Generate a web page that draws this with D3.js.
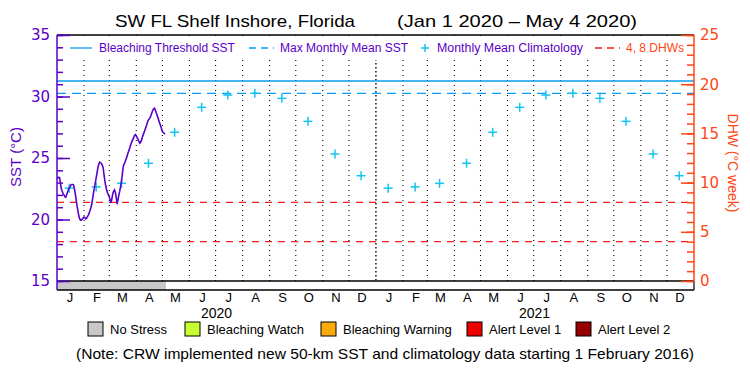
<!DOCTYPE html>
<html>
<head>
<meta charset="utf-8">
<script src="https://cdn.jsdelivr.net/npm/d3@7"></script>
<style>
  body { margin: 0; background: #fff; }
  text { font-family: "Liberation Sans", Arial, sans-serif; }
  .num { font-family: "DejaVu Sans", sans-serif; }
</style>
</head>
<body>
<div id="vis"></div>
<script>
var width = 750;
var height = 375;

// daily SST, Jan 1 2020 -> May 4 2020
var sstStart = "2020-01-01";
var sst = [23.35, 23.4, 23.42, 23.4, 22.9, 22.5, 22.3, 22.1, 22.0, 21.85,
  21.8, 22.0, 22.2, 22.4, 22.55, 22.67, 22.8, 22.85, 22.85, 22.8,
  22.5, 22.1, 21.6, 21.1, 20.7, 20.3, 20.05, 19.95, 19.95, 20.05,
  20.1, 20.2, 20.15, 20.05, 20.1, 20.25, 20.35, 20.55, 20.75, 21.0,
  21.3, 21.75, 22.2, 22.6, 23.0, 23.4, 23.8, 24.25, 24.5, 24.65,
  24.6, 24.57, 24.4, 24.2, 23.6, 23.1, 22.7, 22.4, 22.15, 22.0,
  21.85, 21.6, 21.35, 21.7, 22.1, 22.3, 22.4, 22.2, 21.8, 21.25,
  21.6, 22.0, 22.3, 22.7, 23.1, 23.7, 24.3, 24.5, 24.65, 24.85,
  25.05, 25.3, 25.5, 25.7, 25.95, 26.15, 26.35, 26.5, 26.65, 26.85,
  26.9, 26.8, 26.65, 26.5, 26.35, 26.2, 26.3, 26.45, 26.7, 26.9,
  27.1, 27.3, 27.5, 27.7, 27.95, 28.1, 28.2, 28.3, 28.5, 28.7,
  28.9, 29.0, 29.05, 28.85, 28.65, 28.45, 28.25, 28.0, 27.8, 27.6,
  27.35, 27.15, 27.05, 27.0, 26.95];

// monthly mean climatology (Jan..Dec)
var climatology = [22.55, 22.65, 22.94, 24.57, 27.09, 29.12, 30.12, 30.26, 29.85, 27.98, 25.33, 23.56];
var mmm = 30.26;
var threshold = 31.26;
var dhwLevels = [4, 8];
var years = [2020, 2021];
var monthLabels = ["J", "F", "M", "A", "M", "J", "J", "A", "S", "O", "N", "D"];
var sstTicks = [15, 20, 25, 30, 35];
var dhwTicks = [0, 5, 10, 15, 20, 25];
var stressEnd = "2020-05-05";

var legendItems = [
  {label: "No Stress", color: "#c8c8c8"},
  {label: "Bleaching Watch", color: "#c8ff32"},
  {label: "Bleaching Warning", color: "#faaa0a"},
  {label: "Alert Level 1", color: "#f00000"},
  {label: "Alert Level 2", color: "#960000"}
];

var purple = "#5a00c8";
var orange = "#ff4614";
var blue = "#0a9bf5";
var cyan = "#14c3f0";

// plot box (note: "top" is reserved on window)
var pLeft = 57, pRight = 694, pTop = 35, pBottom = 281, stripBottom = 290;

var canvas = d3.select("#vis")
  .append("svg")
  .attr("width", width)
  .attr("height", height)
  .style("background-color", "#fff");

const x = d3.scaleUtc()
  .domain([new Date(Date.UTC(2020, 0, 1)), new Date(Date.UTC(2022, 0, 1))])
  .range([pLeft, pRight]);

const y = d3.scaleLinear().domain([15, 35]).range([pBottom, pTop]);
const yD = d3.scaleLinear().domain([0, 25]).range([pBottom, pTop]);

var startDate = d3.utcParse("%Y-%m-%d")(sstStart);
var sstData = sst.map((v, i) => ({date: d3.utcDay.offset(startDate, i), value: v}));

// month boundary dotted lines
var monthStarts = d3.utcMonth.range(new Date(Date.UTC(2020, 1, 1)), new Date(Date.UTC(2022, 0, 1)));
canvas.append("g")
  .selectAll("line")
  .data(monthStarts)
  .enter()
  .append("line")
  .attr("x1", d => x(d))
  .attr("x2", d => x(d))
  .attr("y1", pTop)
  .attr("y2", pBottom)
  .style("stroke", "#000")
  .style("stroke-width", d => d.getUTCMonth() == 0 ? 1.4 : 1.1)
  .style("stroke-dasharray", d => d.getUTCMonth() == 0 ? "1.4,2.6" : "1.1,3.9");

// legend background covers the grid
canvas.append("rect")
  .attr("x", pLeft + 1)
  .attr("y", pTop + 1)
  .attr("width", pRight - pLeft - 2)
  .attr("height", 24)
  .style("fill", "#fff");

// threshold + MMM
canvas.append("line")
  .attr("x1", pLeft).attr("x2", pRight)
  .attr("y1", y(threshold)).attr("y2", y(threshold))
  .style("stroke", blue)
  .style("stroke-width", 1.5);

canvas.append("line")
  .attr("x1", pLeft).attr("x2", pRight)
  .attr("y1", y(mmm)).attr("y2", y(mmm))
  .style("stroke", blue)
  .style("stroke-width", 1.3)
  .style("stroke-dasharray", "9,6");

// DHW 4, 8 lines
canvas.append("g")
  .selectAll("line")
  .data(dhwLevels)
  .enter()
  .append("line")
  .attr("x1", pLeft).attr("x2", pRight)
  .attr("y1", d => yD(d)).attr("y2", d => yD(d))
  .style("stroke", "#f01e1e")
  .style("stroke-width", 1.3)
  .style("stroke-dasharray", "7,6");

// climatology crosses
var climData = [];
years.forEach(yr => climatology.forEach((v, m) => climData.push({date: new Date(Date.UTC(yr, m, 15)), value: v})));

var crosses = canvas.append("g")
  .selectAll("g")
  .data(climData)
  .enter()
  .append("g")
  .attr("transform", d => `translate(${x(d.date)}, ${y(d.value)})`)
  .style("stroke", cyan)
  .style("stroke-width", 1.5);
crosses.append("line").attr("x1", -4.5).attr("x2", 4.5);
crosses.append("line").attr("y1", -4.5).attr("y2", 4.5);

// SST line
var line = d3.line()
  .x(d => x(d.date))
  .y(d => y(d.value));

canvas.append("path")
  .datum(sstData)
  .attr("d", line)
  .style("fill", "none")
  .style("stroke", purple)
  .style("stroke-width", 1.6);

// stress strip
canvas.append("rect")
  .attr("x", pLeft)
  .attr("y", pBottom)
  .attr("width", x(d3.utcParse("%Y-%m-%d")(stressEnd)) - pLeft)
  .attr("height", stripBottom - pBottom)
  .style("fill", "#c8c8c8");

// frame
canvas.append("line").attr("x1", pLeft).attr("x2", pRight).attr("y1", pTop).attr("y2", pTop).style("stroke", "#000").style("stroke-width", 1.5);
canvas.append("line").attr("x1", pLeft).attr("x2", pRight).attr("y1", pBottom).attr("y2", pBottom).style("stroke", "#000").style("stroke-width", 1.5);
canvas.append("line").attr("x1", pLeft).attr("x2", pRight).attr("y1", stripBottom).attr("y2", stripBottom).style("stroke", "#000").style("stroke-width", 1.5);
canvas.append("line").attr("x1", pRight).attr("x2", pRight).attr("y1", pBottom).attr("y2", stripBottom).style("stroke", "#000").style("stroke-width", 1.2);

// left axis
const yMinor = d3.axisLeft(y).tickValues(d3.range(15, 36)).tickSize(-6).tickSizeOuter(0).tickFormat("");
const yMajor = d3.axisLeft(y).tickValues(sstTicks).tickSize(-13).tickSizeOuter(0).tickPadding(7);

var gl = canvas.append("g").attr("transform", `translate(${pLeft}, 0)`);
gl.append("g").call(yMinor);
gl.append("g").call(yMajor)
  .call(g => g.selectAll("text").attr("class", "num").style("font-size", "15px").style("fill", purple));
gl.selectAll(".domain").remove();
gl.selectAll("line").style("stroke", purple).style("stroke-width", 1.5);
gl.append("line").attr("y1", pTop).attr("y2", stripBottom).style("stroke", purple).style("stroke-width", 1.5);

// right axis
const dMinor = d3.axisRight(yD).tickValues(d3.range(0, 26)).tickSize(-7).tickSizeOuter(0).tickFormat("");
const dMajor = d3.axisRight(yD).tickValues(dhwTicks).tickSize(-13).tickSizeOuter(0).tickPadding(6);

var gr = canvas.append("g").attr("transform", `translate(${pRight}, 0)`);
gr.append("g").call(dMinor);
gr.append("g").call(dMajor)
  .call(g => g.selectAll("text").attr("class", "num").style("font-size", "15px").style("fill", orange));
gr.selectAll(".domain").remove();
gr.selectAll("line").style("stroke", orange).style("stroke-width", 1.5);
gr.append("line").attr("y1", pTop).attr("y2", pBottom).style("stroke", orange).style("stroke-width", 1.5);

// axis titles
canvas.append("text")
  .attr("transform", "translate(21, 157) rotate(-90)")
  .attr("text-anchor", "middle")
  .style("font-size", "15px")
  .style("fill", purple)
  .text("SST (°C)");

canvas.append("text")
  .attr("transform", "translate(728, 163) rotate(90)")
  .attr("text-anchor", "middle")
  .style("font-size", "14px")
  .style("fill", orange)
  .text("DHW (°C week)");

// month + year labels
var midMonths = [];
years.forEach(yr => d3.range(12).forEach(m => midMonths.push(new Date(Date.UTC(yr, m, 16)))));

canvas.append("g")
  .selectAll("text")
  .data(midMonths)
  .enter()
  .append("text")
  .attr("x", d => x(d))
  .attr("y", 302)
  .attr("text-anchor", "middle")
  .style("font-size", "13px")
  .text(d => monthLabels[d.getUTCMonth()]);

canvas.append("g")
  .selectAll("text")
  .data(years)
  .enter()
  .append("text")
  .attr("x", d => x(new Date(Date.UTC(d, 6, 2))))
  .attr("y", 318)
  .attr("text-anchor", "middle")
  .style("font-size", "14px")
  .text(d => d);

// title
canvas.append("text")
  .attr("x", 115)
  .attr("y", 27)
  .attr("textLength", 240)
  .attr("lengthAdjust", "spacingAndGlyphs")
  .style("font-size", "17px")
  .text("SW FL Shelf Inshore, Florida");

canvas.append("text")
  .attr("x", 397)
  .attr("y", 27)
  .attr("textLength", 240)
  .attr("lengthAdjust", "spacingAndGlyphs")
  .style("font-size", "17px")
  .text("(Jan 1 2020 \u2013 May 4 2020)");

// top legend
var lg = canvas.append("g").style("font-size", "12px");
lg.append("line").attr("x1", 70).attr("x2", 92).attr("y1", 48).attr("y2", 48).style("stroke", blue).style("stroke-width", 1.3);
lg.append("text").attr("x", 99).attr("y", 52).style("fill", purple).text("Bleaching Threshold SST");
lg.append("line").attr("x1", 249).attr("x2", 274).attr("y1", 48).attr("y2", 48).style("stroke", blue).style("stroke-width", 1.3).style("stroke-dasharray", "7,5");
lg.append("text").attr("x", 280).attr("y", 52).style("fill", purple).text("Max Monthly Mean SST");
lg.append("line").attr("x1", 421).attr("x2", 429).attr("y1", 48).attr("y2", 48).style("stroke", cyan).style("stroke-width", 1.5);
lg.append("line").attr("x1", 425).attr("x2", 425).attr("y1", 44).attr("y2", 52).style("stroke", cyan).style("stroke-width", 1.5);
lg.append("text").attr("x", 437).attr("y", 52).attr("textLength", 146).attr("lengthAdjust", "spacingAndGlyphs").style("fill", purple).text("Monthly Mean Climatology");
lg.append("line").attr("x1", 595).attr("x2", 620).attr("y1", 48).attr("y2", 48).style("stroke", "#f01e1e").style("stroke-width", 1.3).style("stroke-dasharray", "7,5");
lg.append("text").attr("x", 626).attr("y", 52).style("fill", orange).text("4, 8 DHWs");

// bottom legend
var boxX = [88, 185, 321, 467, 576];
var bl = canvas.append("g")
  .selectAll("g")
  .data(legendItems)
  .enter()
  .append("g")
  .attr("transform", (d, i) => `translate(${boxX[i]}, 322)`);
bl.append("rect")
  .attr("width", 15)
  .attr("height", 14)
  .style("fill", d => d.color)
  .style("stroke", "#000")
  .style("stroke-width", 1);
bl.append("text")
  .attr("x", 22)
  .attr("y", 12)
  .style("font-size", "13px")
  .text(d => d.label);

canvas.append("text")
  .attr("x", 76)
  .attr("y", 359)
  .attr("textLength", 618)
  .attr("lengthAdjust", "spacingAndGlyphs")
  .style("font-size", "15px")
  .text("(Note: CRW implemented new 50-km SST and climatology data starting 1 February 2016)");
</script>
</body>
</html>
